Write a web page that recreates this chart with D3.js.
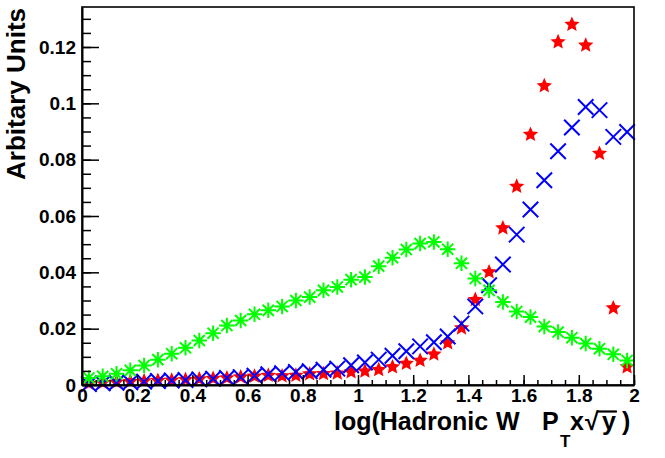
<!DOCTYPE html>
<html lang="en">
<head>
    <meta charset="UTF-8">
    <title>Hadronic W</title>
    <script src="https://cdn.jsdelivr.net/npm/d3@7"></script>
    <style>
        body { margin: 0; background: #fff; }
        text { font-family: "Liberation Sans", Arial, sans-serif; font-weight: bold; }
    </style>
</head>
<body>
<script>
    // 40 bins of 0.05 on [0, 2]
    const binCenters = d3.range(40).map(i => 0.025 + 0.05 * i);

    const redStar = [0.0005, 0.0008, 0.0010, 0.0012, 0.0014, 0.0016, 0.0017, 0.0019, 0.0021, 0.0023,
        0.0025, 0.0028, 0.0031, 0.0034, 0.0032, 0.0034, 0.0039, 0.0040, 0.0042, 0.0046,
        0.0049, 0.0054, 0.0064, 0.0076, 0.0087, 0.0109, 0.0149, 0.0202, 0.0303, 0.0401,
        0.0557, 0.0705, 0.0889, 0.1062, 0.1218, 0.1280, 0.1206, 0.0822, 0.0273, 0.0064];

    const blueCross = [0.0003, 0.0006, 0.0008, 0.0010, 0.0012, 0.0014, 0.0016, 0.0018, 0.0020, 0.0022,
        0.0025, 0.0028, 0.0033, 0.0038, 0.0042, 0.0046, 0.0049, 0.0054, 0.0058, 0.0070,
        0.0080, 0.0090, 0.0104, 0.0120, 0.0137, 0.0152, 0.0172, 0.0218, 0.0279, 0.0354,
        0.0428, 0.0534, 0.0623, 0.0727, 0.0830, 0.0914, 0.0987, 0.0976, 0.0881, 0.0898];

    const greenAst = [0.0025, 0.0031, 0.0040, 0.0052, 0.0069, 0.0090, 0.0111, 0.0132, 0.0158, 0.0184,
        0.0211, 0.0229, 0.0251, 0.0265, 0.0279, 0.0300, 0.0312, 0.0336, 0.0348, 0.0374,
        0.0383, 0.0422, 0.0452, 0.0481, 0.0502, 0.0508, 0.0482, 0.0432, 0.0378, 0.0336,
        0.0295, 0.0261, 0.0241, 0.0208, 0.0188, 0.0168, 0.0147, 0.0129, 0.0109, 0.0087];

    const xTicks = [0, 0.2, 0.4, 0.6, 0.8, 1, 1.2, 1.4, 1.6, 1.8, 2];
    const yTicks = [0, 0.02, 0.04, 0.06, 0.08, 0.1, 0.12];

    const width = 665, height = 458;
    const padL = 82, padR = 634, padT = 7, padB = 385;

    const x = d3.scaleLinear().domain([0, 2]).range([padL, padR]);
    const y = d3.scaleLinear().domain([0, 0.1342]).range([padB, padT]);

    const svg = d3.select('body').append('svg')
        .attr('width', width)
        .attr('height', height);

    svg.append('rect').attr('width', width).attr('height', height).attr('fill', '#fff');

    // 标记形状
    const starType = {
        draw(ctx, size) {
            const r = Math.sqrt(size) / 2, ri = r * 0.46;
            for (let k = 0; k < 10; k++) {
                const a = -Math.PI / 2 + k * Math.PI / 5, rr = k % 2 ? ri : r;
                k ? ctx.lineTo(rr * Math.cos(a), rr * Math.sin(a)) : ctx.moveTo(rr * Math.cos(a), rr * Math.sin(a));
            }
            ctx.closePath();
        }
    };
    const crossType = {
        draw(ctx, size) {
            const r = Math.sqrt(size) / 2;
            ctx.moveTo(-r, -r); ctx.lineTo(r, r);
            ctx.moveTo(-r, r); ctx.lineTo(r, -r);
        }
    };
    const asteriskType = {
        draw(ctx, size) {
            const r = Math.sqrt(size) / 2;
            const d = r * 0.72;
            ctx.moveTo(-r, 0); ctx.lineTo(r, 0);
            ctx.moveTo(0, -r); ctx.lineTo(0, r);
            ctx.moveTo(-d, -d); ctx.lineTo(d, d);
            ctx.moveTo(-d, d); ctx.lineTo(d, -d);
        }
    };

    const series = [
        {values: redStar, type: starType, size: 260, fill: '#ff0000', stroke: 'none'},
        {values: blueCross, type: crossType, size: 240, fill: 'none', stroke: '#0000ff'},
        {values: greenAst, type: asteriskType, size: 240, fill: 'none', stroke: '#00ff00'}
    ];

    series.forEach(s => {
        svg.append('g').selectAll('path')
            .data(s.values)
            .enter().append('path')
            .attr('transform', (d, i) => `translate(${x(binCenters[i])},${y(d)})`)
            .attr('d', d3.symbol().type(s.type).size(s.size))
            .attr('fill', s.fill)
            .attr('stroke', s.stroke)
            .attr('stroke-width', 2);
    });

    // 坐标轴
    const fmt = d3.format('~g');

    svg.append('g')
        .attr('transform', `translate(0,${padB})`)
        .call(d3.axisBottom(x).ticks(40).tickSize(-5).tickFormat(''))
        .call(g => g.select('.domain').remove());

    svg.append('g')
        .attr('transform', `translate(0,${padB})`)
        .call(d3.axisBottom(x).tickValues(xTicks).tickSizeInner(-10).tickSizeOuter(0)
            .tickPadding(3).tickFormat(fmt))
        .call(g => g.select('.domain').attr('stroke-width', 2))
        .call(g => g.selectAll('text').attr('font-size', 19).attr('font-weight', 'bold').attr('fill', '#000'));

    svg.append('g')
        .attr('transform', `translate(${padL},0)`)
        .call(d3.axisLeft(y).tickValues(d3.range(27).map(i => i * 0.005)).tickSize(-9).tickFormat(''))
        .call(g => g.select('.domain').remove());

    svg.append('g')
        .attr('transform', `translate(${padL},0)`)
        .call(d3.axisLeft(y).tickValues(yTicks).tickSizeInner(-17).tickSizeOuter(0)
            .tickPadding(6).tickFormat(fmt))
        .call(g => g.select('.domain').attr('stroke-width', 2))
        .call(g => g.selectAll('text').attr('font-size', 19).attr('font-weight', 'bold').attr('fill', '#000'));

    svg.selectAll('.tick line').attr('stroke-width', 1.5);

    svg.append('rect')
        .attr('x', padL).attr('y', padT)
        .attr('width', padR - padL).attr('height', padB - padT)
        .attr('fill', 'none').attr('stroke', '#000').attr('stroke-width', 1.6);

    // 标题
    const base = 430;
    const xt = svg.append('text')
        .attr('y', base)
        .attr('font-size', 25);
    xt.append('tspan').attr('x', 334).text('log(Hadronic');
    xt.append('tspan').attr('x', 496).text('W');
    xt.append('tspan').attr('x', 542).text('P');
    xt.append('tspan').attr('x', 560).attr('y', base + 17).attr('font-size', 17).text('T');
    xt.append('tspan').attr('x', 570).attr('y', base).text('x');
    xt.append('tspan').attr('x', 585).text('\u221A');
    xt.append('tspan').attr('x', 602).text('y');
    xt.append('tspan').attr('x', 622).text(')');

    // overline over y
    const tn = xt.node();
    const rad = tn.getExtentOfChar(16), yy = tn.getExtentOfChar(17);
    svg.append('line')
        .attr('x1', rad.x + rad.width - 2).attr('x2', yy.x + yy.width + 1)
        .attr('y1', base - 18.5).attr('y2', base - 18.5)
        .attr('stroke', '#000').attr('stroke-width', 2.2);

    svg.append('text')
        .attr('transform', 'translate(25,8) rotate(-90)')
        .attr('text-anchor', 'end')
        .attr('font-size', 26)
        .text('Arbitary Units');
</script>
</body>
</html>
